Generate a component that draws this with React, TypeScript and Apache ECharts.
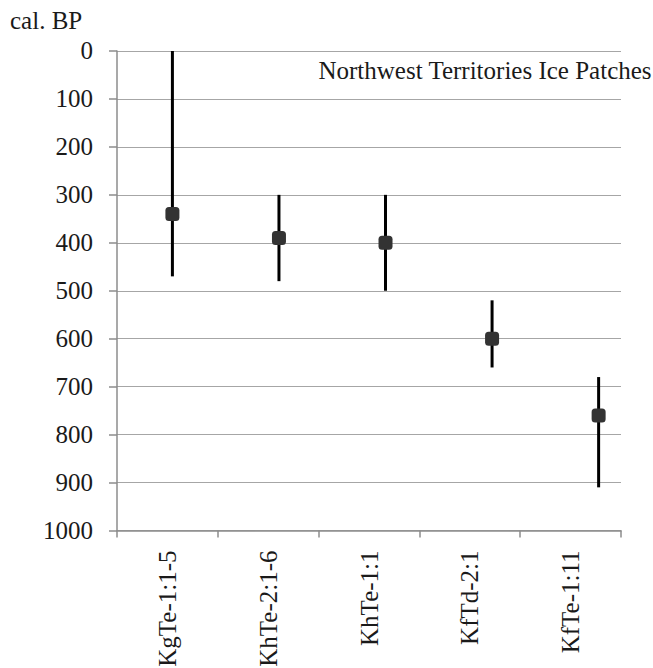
import React, { useEffect, useRef } from "react";
import * as echarts from "echarts";

const categories = ["KgTe-1:1-5", "KhTe-2:1-6", "KhTe-1:1", "KfTd-2:1", "KfTe-1:11"];
const means = [340, 390, 400, 600, 760];
const lows = [0, 300, 300, 520, 680];
const highs = [470, 480, 500, 660, 910];
const yTickValues = [0, 100, 200, 300, 400, 500, 600, 700, 800, 900, 1000];

const FONT = "Liberation Serif, Times New Roman, serif";
const FS = 25;
const TEXT_COLOR = "#1a1a1a";
const W = 653;
const H = 668;

export default function App() {
  const ref = useRef<HTMLDivElement>(null);
  useEffect(() => {
    if (!ref.current) return;
    const chart = echarts.init(ref.current, undefined, { renderer: "svg" });
    const errData = categories.map((_, i) => [i, lows[i], highs[i]]);
    const ptData = categories.map((_, i) => [i, means[i]]);
    const gridLeft = 117;
    const gridBottom = 137.5;
    const titleText = (text: string, pos: any) => ({
      text,
      padding: 0,
      ...pos,
      textStyle: { fontFamily: FONT, fontSize: FS, fontWeight: "normal", color: TEXT_COLOR },
    });
    const baseTitles = [
      titleText("cal. BP", { left: 10, top: 8 }),
      titleText("Northwest Territories Ice Patches", { right: 1, top: 58 }),
    ];
    chart.setOption({
      animation: false,
      backgroundColor: "#ffffff",
      textStyle: { fontFamily: FONT },
      title: baseTitles,
      grid: { left: gridLeft, right: 32, top: 51, bottom: gridBottom, containLabel: false },
      xAxis: [
        {
          type: "category",
          data: categories,
          boundaryGap: true,
          position: "bottom",
          axisLine: { show: true, onZero: false, lineStyle: { color: "#8c8c8c", width: 1.5 } },
          axisTick: { show: true, alignWithLabel: false, interval: 0, length: 7, lineStyle: { color: "#8c8c8c", width: 1.5 } },
          axisLabel: { show: false },
          splitLine: { show: false },
        },
        {
          type: "value",
          show: false,
          min: -0.52,
          max: 4.21,
          position: "bottom",
          axisLine: { show: false, onZero: false },
          splitLine: { show: false },
        },
      ],
      yAxis: {
        type: "value",
        inverse: true,
        min: yTickValues[0],
        max: yTickValues[yTickValues.length - 1],
        interval: yTickValues[1] - yTickValues[0],
        position: "left",
        axisLine: { show: true, onZero: false, lineStyle: { color: "#8c8c8c", width: 1.5 } },
        axisTick: { show: true, length: 8, lineStyle: { color: "#8c8c8c", width: 1.5 } },
        axisLabel: { show: false },
        splitLine: { show: true, lineStyle: { color: "#a6a6a6", width: 1 } },
      },
      series: [
        {
          type: "custom",
          xAxisIndex: 1,
          encode: { x: 0, y: [1, 2] },
          data: errData,
          renderItem: (params: any, api: any) => {
            const x = api.value(0);
            const p1 = api.coord([x, api.value(1)]);
            const p2 = api.coord([x, api.value(2)]);
            return {
              type: "line",
              shape: { x1: p1[0], y1: p1[1], x2: p2[0], y2: p2[1] },
              style: { stroke: "#000000", lineWidth: 3 },
            };
          },
          z: 3,
        },
        {
          type: "scatter",
          xAxisIndex: 1,
          data: ptData,
          symbol: "roundRect",
          symbolSize: 14,
          itemStyle: { color: "#333333", opacity: 1 },
          z: 4,
        },
      ],
    });

    // Tick labels placed at the pixel positions given by the axes' own scales
    const axisY = chart.convertToPixel({ yAxisIndex: 0 }, yTickValues[yTickValues.length - 1]) as number;
    const yLabelTitles = yTickValues.map((v) => {
      const py = chart.convertToPixel({ yAxisIndex: 0 }, v) as number;
      return titleText(String(v), { right: W - (gridLeft - 24), top: py - 13 });
    });
    const xLabels = categories.map((c) => ({
      type: "text",
      x: chart.convertToPixel({ xAxisIndex: 0 }, c) as number,
      y: axisY + 20,
      rotation: Math.PI / 2,
      style: {
        text: c,
        fontFamily: FONT,
        fontSize: FS,
        fontWeight: "normal",
        fill: TEXT_COLOR,
        align: "right",
        verticalAlign: "middle",
      },
    }));
    chart.setOption({ title: [...baseTitles, ...yLabelTitles], graphic: xLabels });

    return () => chart.dispose();
  }, []);
  return (
    <div
      ref={ref}
      style={{ position: "fixed", left: 0, top: 0, width: W, height: H }}
    />
  );
}
